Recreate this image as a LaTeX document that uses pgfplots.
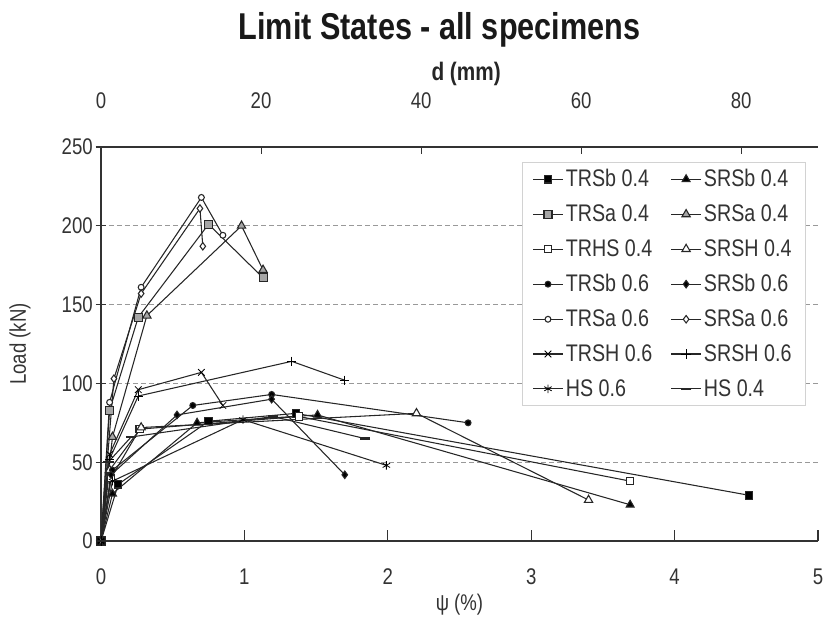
\documentclass[border=0pt]{standalone}
\usepackage{fontspec}
\setmainfont{Liberation Sans}[FakeStretch=0.82]
\usepackage{pgfplots}
\pgfplotsset{compat=1.18}

\pgfplotsset{
  ser/.style={black!85, line width=0.8pt, mark options={solid, line width=0.6pt, draw=black}},
}

\begin{document}
\begin{tikzpicture}
\begin{axis}[
  name=main,
  width=537.75pt, height=295.5pt, scale only axis,
  xmin=0, xmax=5, ymin=0, ymax=250,
  xtick={0,1,...,5}, ytick={0,50,...,250},
  axis x line*=bottom, axis y line*=left,
  axis line style={line width=1.1pt, black!80},
  every tick/.style={black!80, line width=0.8pt},
  x tick style={/pgfplots/tick align=inside}, 
  y tick style={/pgfplots/tick align=center},
  major tick length=8pt,
  ymajorgrids, grid style={gray!80, dash pattern=on 3.5pt off 2.5pt, line width=0.7pt},
  /pgf/number format/assume math mode=true,
  tick label style={font=\fontsize{17}{20}\selectfont, black!80},
  xticklabel style={anchor=center, yshift=-27pt},
  yticklabel style={anchor=east, inner sep=0pt, xshift=-6pt},
  xlabel={ψ (\%)}, ylabel={Load (kN)},
  label style={font=\fontsize{17}{20}\selectfont, black!80},
  xlabel style={at={(axis description cs:0.5,0)}, anchor=center, yshift=-48pt},
  ylabel style={at={(axis description cs:-0.113,0.5)}, anchor=center},
  clip=false,
  legend columns=2, legend cell align=left,
  legend style={at={(0.982,0.962)}, anchor=north east, draw=gray!35,
    font=\fontsize{18}{21}\selectfont, text=black!80,
    inner xsep=8pt, inner ysep=3.5pt, row sep=8pt,
    /tikz/every even column/.append style={column sep=12pt}},
  legend image code/.code={\draw[#1, mark repeat=2, mark phase=2]
    plot coordinates {(0pt,0pt) (11pt,0pt) (22pt,0pt)};},
]
% TRSb 0.4
\addplot[ser, mark=square*, mark size=2.8pt, mark options={fill=black}] coordinates {
  (0,0) (0.12,36) (0.75,76) (1.36,81) (4.52,29)};
\addlegendentry{TRSb 0.4}
% SRSb 0.4
\addplot[ser, mark=triangle*, mark size=3.4pt, mark options={fill=black}] coordinates {
  (0,0) (0.08,30) (0.67,75) (1.51,80) (3.69,23)};
\addlegendentry{SRSb 0.4}
% TRSa 0.4
\addplot[ser, mark=square*, mark size=3pt, mark options={fill=gray!70}] coordinates {
  (0,0) (0.06,83) (0.26,142) (0.75,201) (1.13,167)};
\addlegendentry{TRSa 0.4}
% SRSa 0.4
\addplot[ser, mark=triangle*, mark size=3.6pt, mark options={fill=gray!70}] coordinates {
  (0,0) (0.08,66) (0.32,143) (0.98,200) (1.13,172)};
\addlegendentry{SRSa 0.4}
% TRHS 0.4
\addplot[ser, mark=square*, mark size=2.8pt, mark options={fill=white}] coordinates {
  (0,0) (0.07,40) (0.27,71) (1.38,79) (3.69,38)};
\addlegendentry{TRHS 0.4}
% SRSH 0.4
\addplot[ser, mark=triangle*, mark size=3.6pt, mark options={fill=white}] coordinates {
  (0,0) (0.06,45) (0.28,72) (2.20,81) (3.40,26)};
\addlegendentry{SRSH 0.4}
% TRSb 0.6
\addplot[ser, mark=*, mark size=2.2pt, mark options={fill=black}] coordinates {
  (0,0) (0.08,45) (0.64,86) (1.19,93) (2.56,75)};
\addlegendentry{TRSb 0.6}
% SRSb 0.6
\addplot[ser, mark=diamond*, mark size=2.8pt, mark options={fill=black}] coordinates {
  (0,0) (0.07,42) (0.53,80) (1.19,90) (1.70,42)};
\addlegendentry{SRSb 0.6}
% TRSa 0.6
\addplot[ser, mark=*, mark size=2.2pt, mark options={fill=white}] coordinates {
  (0,0) (0.06,88) (0.28,161) (0.70,218) (0.85,194)};
\addlegendentry{TRSa 0.6}
% SRSa 0.6
\addplot[ser, mark=diamond*, mark size=2.8pt, mark options={fill=white}] coordinates {
  (0,0) (0.09,103) (0.28,157) (0.69,211) (0.71,187)};
\addlegendentry{SRSa 0.6}
% TRSH 0.6
\addplot[ser, mark=x, mark size=3.5pt] coordinates {
  (0,0) (0.06,55) (0.26,96) (0.70,107) (0.85,86)};
\addlegendentry{TRSH 0.6}
% SRSH 0.6
\addplot[ser, mark=+, mark size=3.5pt] coordinates {
  (0,0) (0.06,52) (0.26,92) (1.33,114) (1.70,102)};
\addlegendentry{SRSH 0.6}
% HS 0.6
\addplot[ser, mark=asterisk, mark size=3.2pt] coordinates {
  (0,0) (0.08,38) (0.99,77) (1.99,48)};
\addlegendentry{HS 0.6}
% HS 0.4
\addplot[ser, mark=-, mark size=4pt, mark options={line width=1.8pt}] coordinates {
  (0,0) (0.05,50) (0.21,66) (1.20,79) (1.84,65)};
\addlegendentry{HS 0.4}
\end{axis}

\begin{axis}[
  width=537.75pt, height=295.5pt, scale only axis,
  xmin=0, xmax=89.6, ymin=0, ymax=1,
  axis x line*=top, axis y line=none,
  axis line style={line width=1.1pt, black!80},
  xtick={0,20,...,80}, ytick=\empty,
  every tick/.style={black!80, line width=0.8pt},
  tick align=inside, major tick length=5pt,
  /pgf/number format/assume math mode=true,
  tick label style={font=\fontsize{17}{20}\selectfont, black!80},
  xticklabel style={anchor=center, yshift=35pt},
  xlabel={d (mm)},
  xlabel style={font=\bfseries\fontsize{19}{22}\selectfont, black!85,
    at={(axis description cs:0.5,1)}, anchor=center, yshift=55pt, xshift=5pt},
  title={Limit States - all specimens},
  title style={font=\bfseries\fontsize{28}{31}\selectfont, black!90,
    at={(axis description cs:0.5,1)}, anchor=center, yshift=82pt, xshift=-15pt},
]
\end{axis}
\pgfresetboundingbox
\useasboundingbox (-75.75pt,-58.5pt) rectangle (544.5pt,405.75pt);
\end{tikzpicture}
\end{document}
